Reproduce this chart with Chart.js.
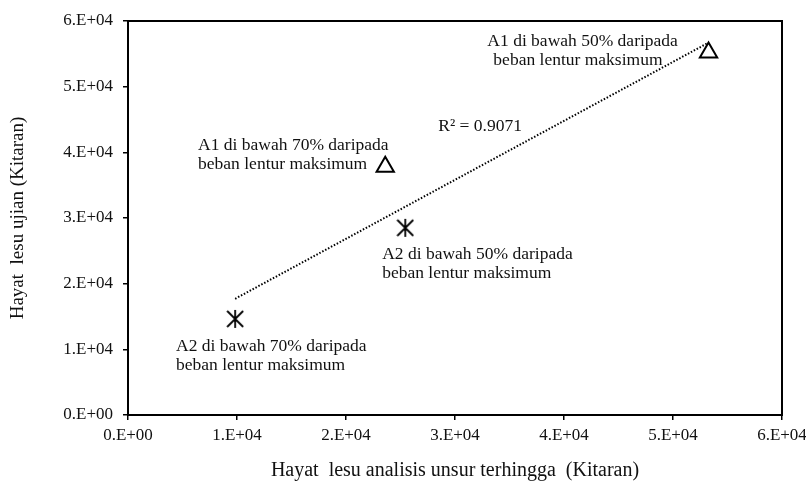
<!DOCTYPE html>
<html>
<head>
<meta charset="utf-8">
<script src="https://cdn.jsdelivr.net/npm/chart.js@4"></script>
<style>
  html, body { margin: 0; padding: 0; background: #fff; }
  #wrap { width: 806px; height: 484px; }
</style>
</head>
<body>
<div id="wrap"><canvas id="myChart" width="806" height="484"></canvas></div>
<script>
// values
const a1X = [53260, 23600];   // A1 at 50%, A1 at 70%
const a1Y = [55200, 37800];
const a2X = [9830, 25440];    // A2 at 70%, A2 at 50%
const a2Y = [14630, 28500];
const trendX = [9830, 53260];
const trendY = [17700, 56700];
const r2Text = 'R² = 0.9071';

const xTitle = 'Hayat  lesu analisis unsur terhingga  (Kitaran)';
const yTitle = 'Hayat  lesu ujian (Kitaran)';

// annotation text, anchored in data units (left edge, middle)
const notes = [
    { x: 32970, y: 56860, text: 'A1 di bawah 50% daripada' },
    { x: 33520, y: 53960, text: 'beban lentur maksimum' },
    { x: 28470, y: 43900, text: r2Text },
    { x: 6430,  y: 41000, text: 'A1 di bawah 70% daripada' },
    { x: 6430,  y: 38110, text: 'beban lentur maksimum' },
    { x: 23320, y: 24390, text: 'A2 di bawah 50% daripada' },
    { x: 23320, y: 21490, text: 'beban lentur maksimum' },
    { x: 4410,  y: 10370, text: 'A2 di bawah 70% daripada' },
    { x: 4410,  y: 7620,  text: 'beban lentur maksimum' },
];

const serif = "'Liberation Serif', 'Times New Roman', serif";

// asterisk marker: an X with a vertical bar through it
function asterisk(w, h) {
    const c = document.createElement('canvas');
    c.width = w + 2; c.height = h + 2;
    const g = c.getContext('2d');
    const mx = c.width / 2, my = c.height / 2;
    const rx = w / 2, ry = h / 2;
    g.strokeStyle = '#000';
    g.lineWidth = 1.8;
    g.beginPath();
    g.moveTo(mx, my - ry); g.lineTo(mx, my + ry);
    g.moveTo(mx - rx, my - rx); g.lineTo(mx + rx, my + rx);
    g.moveTo(mx - rx, my + rx); g.lineTo(mx + rx, my - rx);
    g.stroke();
    return c;
}

const toPts = (xs, ys) => xs.map((x, i) => ({ x: x, y: ys[i] }));

const frame = {
    id: 'frame',
    afterDatasetsDraw(chart) {
        const { ctx, chartArea: a, scales } = chart;
        ctx.save();
        ctx.strokeStyle = '#000';
        ctx.lineWidth = 2;
        ctx.strokeRect(a.left, a.top, a.right - a.left, a.bottom - a.top);
        ctx.fillStyle = '#111';
        ctx.font = '17.5px ' + serif;
        ctx.textAlign = 'left';
        ctx.textBaseline = 'middle';
        notes.forEach(n => {
            ctx.fillText(n.text, scales.x.getPixelForValue(n.x), scales.y.getPixelForValue(n.y));
        });
        ctx.restore();
    }
};

const ctx = document.getElementById('myChart').getContext('2d');

const myChart = new Chart(ctx, {
    type: 'scatter',
    data: {
        datasets: [
            {
                label: 'trend',
                data: toPts(trendX, trendY),
                showLine: true,
                borderColor: '#000',
                borderWidth: 2,
                borderDash: [1.5, 1.8],
                pointRadius: 0,
                fill: false,
            },
            {
                label: 'A1',
                data: toPts(a1X, a1Y),
                pointStyle: 'triangle',
                pointRadius: 10,
                borderColor: '#000',
                backgroundColor: 'rgba(0,0,0,0)',
                borderWidth: 2,
            },
            {
                label: 'A2',
                data: toPts(a2X, a2Y),
                pointStyle: asterisk(16, 18),
                pointRadius: 9,
            },
        ]
    },
    options: {
        responsive: false,
        animation: false,
        layout: {
            padding: { top: 21, right: 24, left: 0, bottom: 0 }
        },
        plugins: {
            legend: { display: false },
            tooltip: { enabled: false },
        },
        scales: {
            x: {
                type: 'linear',
                min: 0,
                max: 60000,
                ticks: {
                    stepSize: 10000,
                    color: '#111',
                    padding: 5,
                    font: { family: serif, size: 17 },
                    callback: (v) => (v / 10000) + '.E+0' + (v === 0 ? '0' : '4'),
                },
                grid: {
                    display: true,
                    drawOnChartArea: false,
                    drawTicks: true,
                    tickLength: 5,
                    color: '#000',
                    lineWidth: 1.5,
                },
                border: { display: true, color: '#000', width: 2 },
                title: {
                    display: true,
                    text: xTitle,
                    color: '#111',
                    font: { family: serif, size: 20 },
                    padding: { top: 0, bottom: 1 },
                },
                afterFit: (scale) => {
                    scale.height = 69;
                    scale.paddingLeft = 0;
                    scale.paddingRight = 0;
                },
            },
            y: {
                type: 'linear',
                min: 0,
                max: 60000,
                ticks: {
                    stepSize: 10000,
                    color: '#111',
                    padding: 10,
                    font: { family: serif, size: 17 },
                    callback: (v) => (v / 10000) + '.E+0' + (v === 0 ? '0' : '4'),
                },
                grid: {
                    display: true,
                    drawOnChartArea: false,
                    drawTicks: true,
                    tickLength: 5,
                    color: '#000',
                    lineWidth: 1.5,
                },
                border: { display: true, color: '#000', width: 2 },
                title: {
                    display: true,
                    text: yTitle,
                    color: '#111',
                    font: { family: serif, size: 19 },
                    padding: { top: 7, bottom: 0 },
                },
                afterFit: (scale) => {
                    scale.width = 128;
                    scale.paddingTop = 0;
                    scale.paddingBottom = 0;
                },
            },
        }
    },
    plugins: [frame],
});
</script>
</body>
</html>
